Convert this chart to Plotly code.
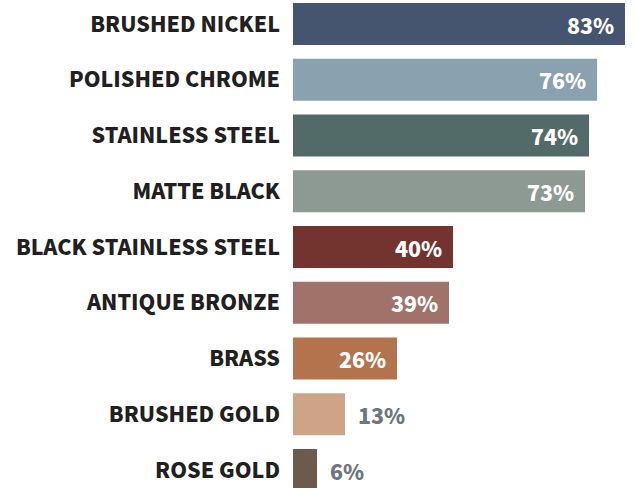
import plotly.graph_objects as go

categories = ["BRUSHED NICKEL", "POLISHED CHROME", "STAINLESS STEEL", "MATTE BLACK",
              "BLACK STAINLESS STEEL", "ANTIQUE BRONZE", "BRASS", "BRUSHED GOLD", "ROSE GOLD"]
values = [83, 76, 74, 73, 40, 39, 26, 13, 6]
colors = ["#45556F", "#8AA1AF", "#526B69", "#8C9A93", "#733430",
          "#A0726A", "#B4734D", "#CFA387", "#6C5B4C"]
inside = [True, True, True, True, True, True, True, False, False]

idx = list(range(len(categories)))

fig = go.Figure(go.Bar(
    x=values, y=idx, orientation="h",
    marker=dict(color=colors, line=dict(width=0)),
    width=0.7534, hoverinfo="skip",
))

LABEL_FONT = "Noto Sans CJK JP"
FS = 21.4
for i, v, ins in zip(idx, values, inside):
    fig.add_annotation(
        x=v, y=i, xref="x", yref="y", text=f"{v}%", showarrow=False,
        xanchor="right" if ins else "left", yanchor="middle",
        xshift=-9 if ins else 11,
        font=dict(family=LABEL_FONT, size=FS, weight=900,
                  color="#FFFFFF" if ins else "#6E757C"),
    )

fig.update_layout(
    width=635, height=488,
    margin=dict(l=293, r=0, t=0, b=0, autoexpand=False),
    paper_bgcolor="white", plot_bgcolor="white",
    showlegend=False,
    xaxis=dict(range=[0, 85.5], visible=False, fixedrange=True),
    yaxis=dict(range=[8.3229, -0.4305], tickvals=idx, ticktext=categories,
               showgrid=False, zeroline=False, showline=False, ticks="",
               automargin=False, ticklabelstandoff=12,
               tickfont=dict(family=LABEL_FONT, size=FS, weight=900, color="#231F20")),
)

fig.write_html("out.html")
